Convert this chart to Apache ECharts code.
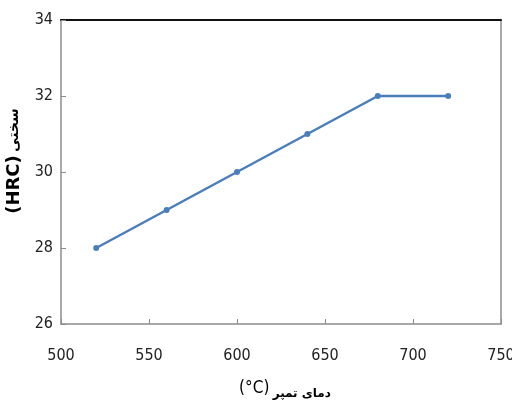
<!DOCTYPE html>
<html><head><meta charset="utf-8">
<script src="https://cdn.jsdelivr.net/npm/echarts@6/dist/echarts.min.js"></script>
<style>html,body{margin:0;padding:0;background:#fff}#c{width:512px;height:402px}</style>
</head><body><div id="c"></div>
<script>
const temps = [520, 560, 600, 640, 680, 720];
const hardness = [28, 29, 30, 31, 32, 32];
const xTicks = [500, 550, 600, 650, 700, 750];
const yTicks = [26, 28, 30, 32, 34];
const xTitleUnit = '(°C)';
const xTitleText = 'دمای تمپر';
const yTitleUnit = '(HRC)';
const yTitleText = 'سختی';

const F = '"DejaVu Sans",sans-serif';
const chart = echarts.init(document.getElementById('c'), null, {renderer: 'canvas'});
chart.setOption({
  animation: false,
  backgroundColor: '#fff',
  grid: {left: 61, right: 11, top: 20, bottom: 78, containLabel: false, outerBoundsMode: 'none'},
  xAxis: [{
    type: 'value', min: xTicks[0], max: xTicks[xTicks.length - 1], interval: 50,
    axisLine: {show: true, lineStyle: {color: '#8c8c8c', width: 1.5}},
    axisTick: {show: true, inside: true, length: 5, lineStyle: {color: '#8c8c8c'}},
    axisLabel: {color: '#222', fontFamily: F, fontWeight: 'condensed', fontSize: 16, margin: 24},
    splitLine: {show: false},
    name: '{u|' + xTitleUnit + '} {t|' + xTitleText + '}', nameLocation: 'middle', nameGap: 56,
    nameTextStyle: {
      padding: [0, 0, 0, 8],
      rich: {
        u: {color: '#000', fontFamily: F, fontWeight: 'condensed', fontSize: 17, verticalAlign: 'bottom', padding: [0, 0, 5, 0]},
        t: {color: '#000', fontFamily: F, fontSize: 12, fontWeight: 'bold', padding: [5, 0, 0, 0]}
      }
    }
  }, {
    type: 'value', position: 'top', min: xTicks[0], max: xTicks[xTicks.length - 1],
    axisLine: {show: true, onZero: false, lineStyle: {color: '#111', width: 2}},
    axisTick: {show: false}, axisLabel: {show: false}, splitLine: {show: false}
  }],
  yAxis: [{
    type: 'value', min: yTicks[0], max: yTicks[yTicks.length - 1], interval: 2,
    axisLine: {show: true, lineStyle: {color: '#8c8c8c', width: 1.5}},
    axisTick: {show: true, inside: true, length: 5, lineStyle: {color: '#8c8c8c'}},
    axisLabel: {color: '#222', fontFamily: F, fontWeight: 'condensed', fontSize: 16, margin: 8},
    splitLine: {show: false},
    name: '{u|' + yTitleUnit + '} {t|' + yTitleText + '}', nameLocation: 'middle', nameGap: 30, nameRotate: 90,
    nameTextStyle: {
      padding: [0, 0, 0, 22],
      rich: {
        u: {color: '#000', fontFamily: F, fontSize: 18, fontWeight: 'bold'},
        t: {color: '#000', fontFamily: F, fontSize: 14, fontWeight: 'bold'}
      }
    }
  }, {
    type: 'value', position: 'right', min: yTicks[0], max: yTicks[yTicks.length - 1],
    axisLine: {show: true, onZero: false, lineStyle: {color: '#8c8c8c', width: 1.5}},
    axisTick: {show: false}, axisLabel: {show: false}, splitLine: {show: false}
  }],
  series: [{
    type: 'line',
    data: temps.map((t, i) => [t, hardness[i]]),
    symbol: 'circle', symbolSize: 6,
    lineStyle: {color: '#4a7ebb', width: 2.5},
    itemStyle: {color: '#4a7ebb'}
  }]
});
</script></body></html>
